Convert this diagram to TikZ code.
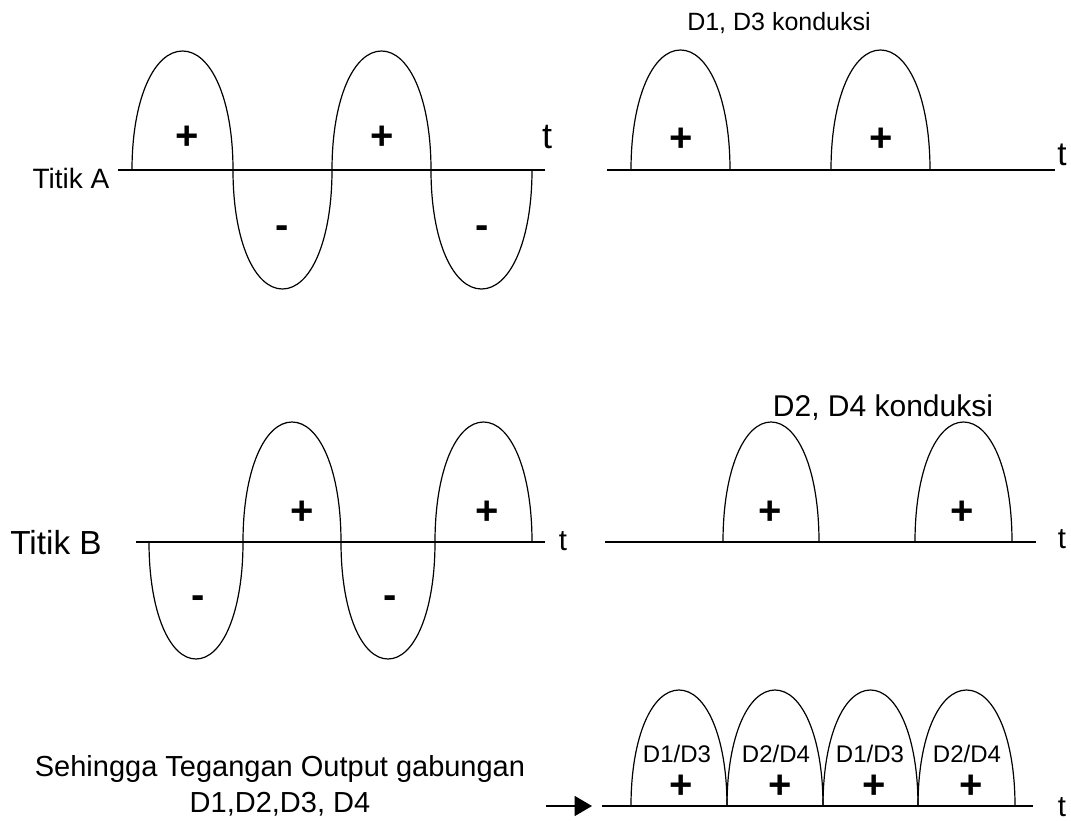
\documentclass[tikz,border=0pt]{standalone}
\usepackage{fontspec}
\setmainfont{Liberation Sans}
\usetikzlibrary{arrows.meta}

\tikzset{
  hump/.pic={\draw (0,0) .. controls (0,-0.6) and (0.22,-1) .. (0.5,-1)
                         .. controls (0.78,-1) and (1,-0.6) .. (1,0);}
}

\begin{document}
\begin{tikzpicture}[
  x=0.75pt, y=-0.75pt,
  axis/.style={line width=1pt},
  wave/.style={line width=0.9pt},
  sign/.style={font=\fontsize{30}{34}\selectfont\bfseries, inner sep=0pt},
  tlbl/.style={inner sep=0pt},
  lbl/.style={inner sep=0pt, font=\fontsize{21}{25}\selectfont},
  dlbl/.style={inner sep=0pt, font=\fontsize{18}{21}\selectfont}
]
\useasboundingbox (0,0) rectangle (1071,821);

% Titik A
\draw[axis] (118,170) -- (545,170);
\foreach \x/\w/\h in {132/101/119, 233/99/-119, 332/99/119, 431/101/-119}
  \pic[wave, xscale=\w, yscale=\h] at (\x,170) {hump};
\foreach \x/\y/\s [count=\i] in {187/138/+, 382/138/+, 282/232/-, 482/232/-}
  \node[sign] (sa\i) at (\x,\y) {\s};
\node[lbl] (titikA) at (71,178) {Titik A};
\node[tlbl, font=\fontsize{27}{30}\selectfont] (ta) at (547,137) {t};

\draw[axis] (607,170) -- (1055,170);
\foreach \x [count=\i] in {631,831} {
  \pic[wave, xscale=99, yscale=120] at (\x,170) {hump};
  \node[sign] (pa\i) at (\x+50,140) {+};
}
\node[tlbl, font=\fontsize{25}{28}\selectfont] (ta2) at (1062,155) {t};
\node[inner sep=0pt, font=\fontsize{18.75}{22}\selectfont] (konA) at (779,23) {D1, D3 konduksi};

% Titik B
\draw[axis] (136,542) -- (545,542);
\foreach \x/\w/\h in {149/94/-117, 243/98/120, 341/94/-117, 435/97/120}
  \pic[wave, xscale=\w, yscale=\h] at (\x,542) {hump};
\foreach \x/\y/\s [count=\i] in {302/513/+, 487/513/+, 198/602/-, 390/602/-}
  \node[sign] (sb\i) at (\x,\y) {\s};
\node[inner sep=0pt, font=\fontsize{25}{30}\selectfont] (titikB) at (56,543) {Titik B};
\node[tlbl, font=\fontsize{22}{26}\selectfont] (tb) at (563,541) {t};

\draw[axis] (605,542) -- (1036,542);
\foreach \x/\w [count=\i] in {723/96, 915/97} {
  \pic[wave, xscale=\w, yscale=120] at (\x,542) {hump};
  \node[sign] (pb\i) at (\x+47,513) {+};
}
\node[tlbl, font=\fontsize{22}{26}\selectfont] (tb2) at (1062,539) {t};
\node[inner sep=0pt, font=\fontsize{22.5}{27}\selectfont] (konB) at (883,408) {D2, D4 konduksi};

% gabungan
\node[lbl, align=center, font=\fontsize{21.75}{27}\selectfont] (hasil) at (280,786)
  {Sehingga Tegangan Output gabungan\\D1,D2,D3, D4};
\coordinate (panah) at (546,806);
\coordinate (awal) at (592,806);
\draw[axis, -{Triangle[length=13pt, width=15pt]}] (panah) -- (awal);
\draw[axis] (602,806) -- (1033,806);
\foreach \x/\w in {631/96, 727/96, 823/95, 918/97}
  \pic[wave, xscale=\w, yscale=116] at (\x,806) {hump};
\foreach \x/\d [count=\i] in {677/{D1/D3}, 776/{D2/D4}, 870/{D1/D3}, 967/{D2/D4}} {
  \node[dlbl] (d\i) at (\x,754) {\d};
  \node[sign] (pc\i) at (\x+4,787) {+};
}
\node[tlbl, font=\fontsize{22}{26}\selectfont] (tc) at (1062,807) {t};
\end{tikzpicture}
\end{document}
